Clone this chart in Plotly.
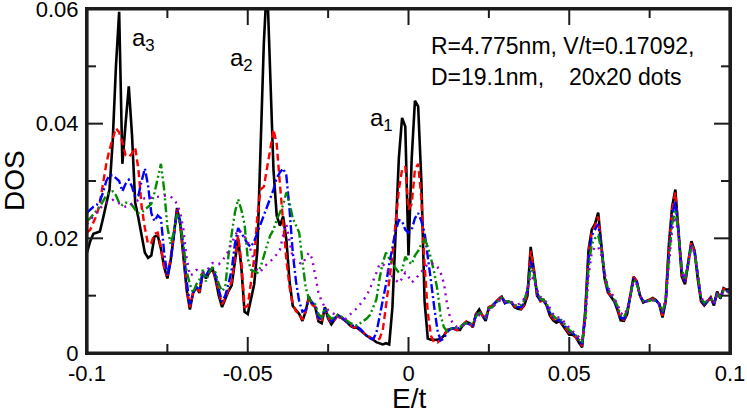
import plotly.graph_objects as go

# Energy sample grid (E/t), step 0.001 from -0.1 to 0.1
E = [round(-0.1 + 0.001 * k, 3) for k in range(201)]

dos_black = [
 0.0175,0.0195,0.0208,0.0210,0.0212,0.0235,0.0262,0.0285,0.0370,0.0500,
 0.0595,0.0330,0.0400,0.0465,0.0380,0.0262,0.0235,0.0205,0.0175,0.0166,
 0.0170,0.0203,0.0205,0.0182,0.0150,0.0130,0.0160,0.0205,0.0253,0.0225,
 0.0170,0.0110,0.0076,0.0105,0.0115,0.0105,0.0140,0.0130,0.0140,0.0148,
 0.0128,0.0100,0.0080,0.0095,0.0108,0.0118,0.0160,0.0200,0.0150,0.0072,
 0.0068,0.0095,0.0120,0.0180,0.0360,0.0540,0.0650,0.0500,0.0320,0.0240,
 0.0222,0.0238,0.0198,0.0125,0.0082,0.0075,0.0068,0.0056,0.0072,0.0098,
 0.0085,0.0080,0.0055,0.0052,0.0080,0.0060,0.0050,0.0058,0.0066,0.0062,
 0.0058,0.0053,0.0047,0.0044,0.0044,0.0040,0.0035,0.0030,0.0027,0.0023,
 0.0019,0.0017,0.0015,0.0017,0.0015,0.0080,0.0220,0.0340,0.0410,0.0395,
 0.0170,0.0340,0.0440,0.0430,0.0300,0.0090,0.0025,0.0023,0.0023,0.0023,
 0.0025,0.0030,0.0040,0.0042,0.0043,0.0040,0.0040,0.0049,0.0054,0.0052,
 0.0045,0.0068,0.0076,0.0065,0.0056,0.0080,0.0082,0.0088,0.0094,0.0098,
 0.0087,0.0090,0.0088,0.0080,0.0077,0.0076,0.0083,0.0100,0.0185,0.0145,
 0.0100,0.0092,0.0093,0.0082,0.0065,0.0057,0.0053,0.0056,0.0048,0.0040,
 0.0032,0.0032,0.0028,0.0018,0.0010,0.0075,0.0180,0.0215,0.0225,0.0245,
 0.0185,0.0130,0.0106,0.0099,0.0090,0.0075,0.0057,0.0056,0.0068,0.0100,
 0.0133,0.0125,0.0100,0.0088,0.0090,0.0093,0.0096,0.0092,0.0085,0.0062,
 0.0090,0.0190,0.0255,0.0285,0.0210,0.0133,0.0120,0.0155,0.0195,0.0178,
 0.0128,0.0090,0.0083,0.0090,0.0097,0.0083,0.0107,0.0095,0.0113,0.0110,
 0.0112]

dos_red = [
 0.0210,0.0215,0.0228,0.0240,0.0262,0.0300,0.0330,0.0355,0.0375,0.0392,
 0.0385,0.0368,0.0345,0.0342,0.0348,0.0358,0.0320,0.0255,0.0218,0.0190,
 0.0192,0.0208,0.0210,0.0185,0.0150,0.0135,0.0165,0.0210,0.0250,0.0225,
 0.0175,0.0115,0.0080,0.0105,0.0112,0.0108,0.0140,0.0132,0.0142,0.0148,
 0.0130,0.0105,0.0085,0.0095,0.0110,0.0125,0.0165,0.0205,0.0160,0.0080,
 0.0082,0.0120,0.0165,0.0240,0.0285,0.0290,0.0320,0.0355,0.0390,0.0365,
 0.0295,0.0230,0.0163,0.0115,0.0085,0.0073,0.0068,0.0058,0.0072,0.0095,
 0.0085,0.0080,0.0058,0.0055,0.0078,0.0062,0.0052,0.0058,0.0065,0.0062,
 0.0058,0.0052,0.0048,0.0045,0.0045,0.0040,0.0036,0.0031,0.0028,0.0024,
 0.0022,0.0025,0.0040,0.0080,0.0125,0.0170,0.0235,0.0285,0.0320,0.0325,
 0.0250,0.0260,0.0320,0.0330,0.0270,0.0155,0.0070,0.0030,0.0018,0.0018,
 0.0024,0.0030,0.0040,0.0043,0.0042,0.0040,0.0042,0.0050,0.0055,0.0050,
 0.0047,0.0068,0.0074,0.0065,0.0058,0.0080,0.0082,0.0090,0.0093,0.0100,
 0.0088,0.0090,0.0088,0.0082,0.0078,0.0077,0.0085,0.0105,0.0178,0.0145,
 0.0102,0.0090,0.0092,0.0083,0.0067,0.0060,0.0055,0.0057,0.0050,0.0042,
 0.0035,0.0033,0.0028,0.0020,0.0012,0.0072,0.0175,0.0210,0.0222,0.0238,
 0.0185,0.0132,0.0108,0.0100,0.0091,0.0077,0.0060,0.0058,0.0070,0.0100,
 0.0132,0.0125,0.0100,0.0090,0.0091,0.0093,0.0095,0.0092,0.0085,0.0065,
 0.0090,0.0185,0.0250,0.0280,0.0212,0.0138,0.0122,0.0155,0.0193,0.0178,
 0.0130,0.0092,0.0085,0.0090,0.0096,0.0085,0.0105,0.0096,0.0112,0.0110,
 0.0110]

dos_blue = [
 0.0245,0.0250,0.0255,0.0258,0.0265,0.0280,0.0300,0.0310,0.0310,0.0305,
 0.0300,0.0282,0.0295,0.0302,0.0290,0.0272,0.0275,0.0300,0.0322,0.0292,
 0.0244,0.0230,0.0240,0.0235,0.0175,0.0135,0.0160,0.0205,0.0248,0.0230,
 0.0185,0.0125,0.0085,0.0105,0.0115,0.0110,0.0142,0.0135,0.0145,0.0150,
 0.0135,0.0110,0.0090,0.0100,0.0120,0.0145,0.0190,0.0218,0.0210,0.0200,
 0.0190,0.0185,0.0195,0.0210,0.0225,0.0240,0.0255,0.0270,0.0285,0.0305,
 0.0315,0.0322,0.0310,0.0250,0.0175,0.0125,0.0090,0.0072,0.0075,0.0095,
 0.0088,0.0082,0.0062,0.0058,0.0078,0.0063,0.0055,0.0060,0.0066,0.0063,
 0.0058,0.0054,0.0050,0.0047,0.0046,0.0042,0.0036,0.0030,0.0026,0.0024,
 0.0035,0.0062,0.0090,0.0120,0.0155,0.0185,0.0212,0.0232,0.0230,0.0215,
 0.0210,0.0215,0.0235,0.0244,0.0230,0.0210,0.0170,0.0125,0.0080,0.0040,
 0.0022,0.0025,0.0036,0.0042,0.0043,0.0042,0.0044,0.0050,0.0052,0.0050,
 0.0048,0.0066,0.0072,0.0066,0.0060,0.0078,0.0080,0.0088,0.0092,0.0098,
 0.0088,0.0089,0.0087,0.0082,0.0080,0.0080,0.0088,0.0108,0.0160,0.0140,
 0.0105,0.0092,0.0090,0.0084,0.0070,0.0062,0.0057,0.0058,0.0052,0.0045,
 0.0038,0.0035,0.0030,0.0022,0.0015,0.0065,0.0165,0.0205,0.0215,0.0225,
 0.0185,0.0135,0.0110,0.0102,0.0092,0.0078,0.0062,0.0060,0.0072,0.0100,
 0.0130,0.0124,0.0100,0.0090,0.0090,0.0092,0.0094,0.0091,0.0086,0.0068,
 0.0090,0.0175,0.0240,0.0265,0.0212,0.0142,0.0125,0.0155,0.0190,0.0176,
 0.0130,0.0093,0.0086,0.0090,0.0095,0.0086,0.0104,0.0097,0.0110,0.0108,
 0.0110]

dos_green = [
 0.0230,0.0235,0.0242,0.0248,0.0255,0.0265,0.0275,0.0280,0.0282,0.0275,
 0.0262,0.0258,0.0262,0.0262,0.0258,0.0250,0.0244,0.0245,0.0250,0.0255,
 0.0260,0.0280,0.0305,0.0330,0.0285,0.0220,0.0190,0.0210,0.0242,0.0225,
 0.0188,0.0142,0.0120,0.0105,0.0120,0.0128,0.0145,0.0125,0.0140,0.0150,
 0.0140,0.0120,0.0108,0.0115,0.0170,0.0212,0.0245,0.0268,0.0250,0.0225,
 0.0165,0.0145,0.0142,0.0140,0.0150,0.0170,0.0188,0.0205,0.0215,0.0232,
 0.0245,0.0258,0.0280,0.0262,0.0235,0.0222,0.0210,0.0160,0.0115,0.0095,
 0.0088,0.0085,0.0068,0.0062,0.0078,0.0066,0.0060,0.0062,0.0066,0.0064,
 0.0060,0.0056,0.0052,0.0050,0.0048,0.0052,0.0056,0.0060,0.0066,0.0078,
 0.0093,0.0130,0.0158,0.0175,0.0165,0.0155,0.0148,0.0140,0.0145,0.0168,
 0.0160,0.0155,0.0170,0.0178,0.0190,0.0200,0.0185,0.0165,0.0140,0.0110,
 0.0065,0.0045,0.0038,0.0042,0.0045,0.0044,0.0045,0.0050,0.0052,0.0052,
 0.0050,0.0064,0.0070,0.0066,0.0062,0.0078,0.0080,0.0087,0.0092,0.0096,
 0.0090,0.0090,0.0088,0.0084,0.0082,0.0084,0.0092,0.0110,0.0150,0.0135,
 0.0108,0.0095,0.0092,0.0086,0.0073,0.0065,0.0060,0.0060,0.0055,0.0048,
 0.0040,0.0036,0.0032,0.0024,0.0018,0.0062,0.0150,0.0190,0.0200,0.0205,
 0.0180,0.0138,0.0112,0.0104,0.0094,0.0082,0.0066,0.0063,0.0074,0.0100,
 0.0128,0.0122,0.0100,0.0091,0.0090,0.0091,0.0093,0.0090,0.0086,0.0072,
 0.0092,0.0165,0.0225,0.0250,0.0210,0.0145,0.0128,0.0155,0.0188,0.0175,
 0.0132,0.0095,0.0088,0.0091,0.0094,0.0088,0.0102,0.0098,0.0108,0.0107,
 0.0108]

dos_violet = [
 0.0225,0.0232,0.0240,0.0245,0.0252,0.0258,0.0262,0.0265,0.0267,0.0264,
 0.0260,0.0257,0.0255,0.0257,0.0260,0.0264,0.0267,0.0268,0.0270,0.0270,
 0.0271,0.0272,0.0273,0.0273,0.0274,0.0275,0.0273,0.0268,0.0260,0.0245,
 0.0215,0.0165,0.0135,0.0138,0.0145,0.0143,0.0140,0.0142,0.0150,0.0157,
 0.0156,0.0155,0.0160,0.0168,0.0178,0.0192,0.0205,0.0215,0.0210,0.0203,
 0.0195,0.0178,0.0160,0.0142,0.0142,0.0150,0.0155,0.0160,0.0165,0.0172,
 0.0180,0.0205,0.0225,0.0195,0.0165,0.0160,0.0158,0.0155,0.0165,0.0175,
 0.0165,0.0135,0.0105,0.0090,0.0080,0.0075,0.0070,0.0068,0.0064,0.0060,
 0.0058,0.0062,0.0068,0.0074,0.0078,0.0085,0.0092,0.0100,0.0112,0.0125,
 0.0140,0.0155,0.0155,0.0150,0.0140,0.0133,0.0127,0.0122,0.0130,0.0140,
 0.0133,0.0123,0.0128,0.0135,0.0140,0.0148,0.0155,0.0157,0.0155,0.0150,
 0.0140,0.0122,0.0085,0.0060,0.0050,0.0046,0.0046,0.0048,0.0050,0.0050,
 0.0050,0.0060,0.0066,0.0065,0.0064,0.0075,0.0078,0.0085,0.0090,0.0094,
 0.0090,0.0090,0.0089,0.0086,0.0085,0.0087,0.0095,0.0110,0.0135,0.0128,
 0.0110,0.0098,0.0094,0.0088,0.0077,0.0068,0.0062,0.0062,0.0057,0.0050,
 0.0043,0.0038,0.0034,0.0028,0.0022,0.0055,0.0135,0.0175,0.0185,0.0185,
 0.0170,0.0140,0.0115,0.0106,0.0096,0.0085,0.0070,0.0066,0.0076,0.0100,
 0.0125,0.0120,0.0100,0.0092,0.0090,0.0090,0.0092,0.0090,0.0086,0.0075,
 0.0092,0.0155,0.0215,0.0238,0.0205,0.0148,0.0130,0.0155,0.0186,0.0174,
 0.0133,0.0097,0.0089,0.0091,0.0093,0.0089,0.0100,0.0098,0.0106,0.0106,
 0.0106]

x_tickvals = [-0.1, -0.05, 0, 0.05, 0.1]
x_ticktext = ["-0.1", "-0.05", "0", "0.05", "0.1"]
x_minorvals = [-0.075, -0.025, 0.025, 0.075]
y_tickvals = [0, 0.02, 0.04, 0.06]
y_ticktext = ["0", "0.02", "0.04", "0.06"]
y_minorvals = [0.01, 0.03, 0.05]

X_RANGE = [-0.1, 0.1]
Y_RANGE = [0, 0.06]

FONT = "Liberation Sans, Arial, Helvetica, sans-serif"
W, H = 747, 413
ML, MR, MT, MB = 87, 17, 9, 60
MAJOR_PX, MINOR_PX = 16, 9
FRAME_COLOR = "#1c1c1c"

series = [
    (dos_black, "#000000", "solid", 2.6),
    (dos_red, "#ff0000", "7px,4px", 2.4),
    (dos_blue, "#0000ff", "9px,3px,2px,3px", 2.4),
    (dos_green, "#008b00", "9px,3px,2px,3px,2px,3px", 2.4),
    (dos_violet, "#9400d3", "2px,5px", 2.4),
]

fig = go.Figure()
for vals, col, dash, w in series:
    fig.add_trace(go.Scatter(x=E, y=vals, mode="lines",
                             line=dict(color=col, dash=dash, width=w),
                             showlegend=False))

# frame and inside ticks (major + minor) on all four sides, built from the
# tick lists; each piece starts inside the plot and runs out to the edge
px_x = (X_RANGE[1] - X_RANGE[0]) / (W - ML - MR)   # data units per pixel (x)
px_y = (Y_RANGE[1] - Y_RANGE[0]) / (H - MT - MB)   # data units per pixel (y)
ex0, ex1 = X_RANGE[0] + 0.6 * px_x, X_RANGE[1] - 0.6 * px_x
ey0, ey1 = Y_RANGE[0] + 0.6 * px_y, Y_RANGE[1] - 0.6 * px_y
fx, fy = [], []
for vals, ln in ((x_tickvals, MAJOR_PX), (x_minorvals, MINOR_PX)):
    for v in vals:
        fx += [v, v, None, v, v, None]
        fy += [Y_RANGE[0] + ln * px_y, ey0, None,
               Y_RANGE[1] - ln * px_y, ey1, None]
for vals, ln in ((y_tickvals, MAJOR_PX), (y_minorvals, MINOR_PX)):
    for v in vals:
        fx += [X_RANGE[0] + ln * px_x, ex0, None,
               X_RANGE[1] - ln * px_x, ex1, None]
        fy += [v, v, None, v, v, None]
fx += [ex1, ex0, ex0, ex1, ex1]
fy += [ey1, ey1, ey0, ey0, ey1]
fig.add_trace(go.Scatter(x=fx, y=fy, mode="lines", cliponaxis=False,
                         line=dict(color=FRAME_COLOR, width=2),
                         showlegend=False, hoverinfo="skip"))

axis_common = dict(
    showline=True, linecolor=FRAME_COLOR, linewidth=2, mirror=True,
    ticks="", showgrid=False, zeroline=False, automargin=False,
    ticklabeloverflow="allow",
    tickfont=dict(family=FONT, size=22, color="black"),
)
fig.update_xaxes(range=X_RANGE, tickmode="array", tickvals=x_tickvals,
                 ticktext=x_ticktext, **axis_common)
fig.update_yaxes(range=Y_RANGE, tickmode="array", tickvals=y_tickvals,
                 ticktext=y_ticktext, ticklabelstandoff=2, **axis_common)

ann_font = dict(family=FONT, size=23, color="black")
lab_font = dict(family=FONT, size=24, color="black")
title_font = dict(family=FONT, size=28, color="black")
annotations = [
    dict(x=0.0065, y=0.0510, text="R=4.775nm, V/t=0.17092,", xanchor="left", yanchor="bottom", font=ann_font),
    dict(x=0.0065, y=0.0455, text="D=19.1nm,", xanchor="left", yanchor="bottom", font=ann_font),
    dict(x=0.0493, y=0.0455, text="20x20 dots", xanchor="left", yanchor="bottom", font=ann_font),
    dict(x=-0.0865, y=0.0517, text="a<sub>3</sub>", xanchor="left", yanchor="bottom", font=lab_font),
    dict(x=-0.0563, y=0.0482, text="a<sub>2</sub>", xanchor="left", yanchor="bottom", font=lab_font),
    dict(x=-0.0127, y=0.0376, text="a<sub>1</sub>", xanchor="left", yanchor="bottom", font=lab_font),
]
for a in annotations:
    fig.add_annotation(xref="x", yref="y", showarrow=False, **a)

# axis titles
fig.add_annotation(xref="paper", yref="paper", x=0.5, y=0, yshift=-45,
                   text="E/t", showarrow=False, xanchor="center", yanchor="middle",
                   font=title_font)
fig.add_annotation(xref="paper", yref="paper", x=0, y=0.5, xshift=-73,
                   text="DOS", textangle=-90, showarrow=False,
                   xanchor="center", yanchor="middle", font=title_font)

fig.update_layout(
    width=W, height=H,
    margin=dict(l=ML, r=MR, t=MT, b=MB),
    plot_bgcolor="white",
    font=dict(family=FONT, color="black"),
    showlegend=False,
)

fig.write_html("out.html", config={"displayModeBar": False},
               post_script="document.body.style.margin='0px';")
